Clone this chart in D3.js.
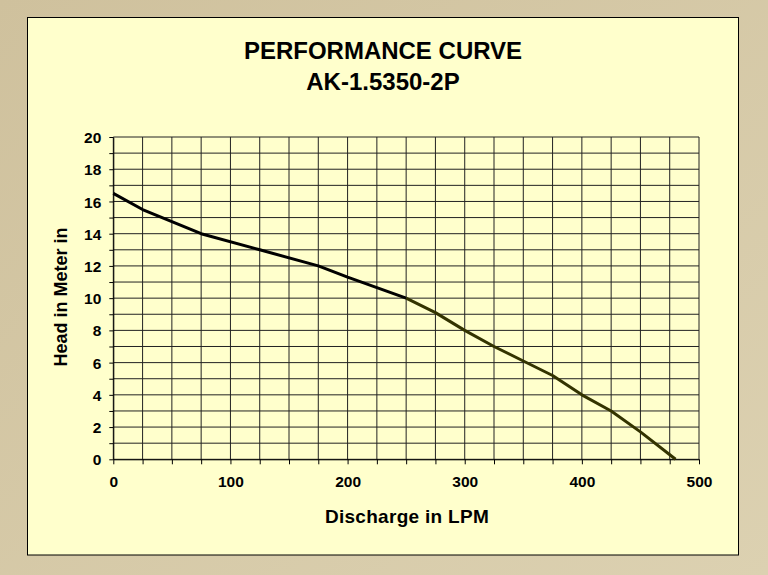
<!DOCTYPE html>
<html lang="en">
<head>
  <meta charset="UTF-8">
  <title>Performance Curve AK-1.5350-2P</title>
  <script src="https://d3js.org/d3.v7.min.js"></script>
  <style>
    body { margin: 0; }
    text { font-family: "Liberation Sans", Arial, sans-serif; font-weight: bold; fill: #000; }
  </style>
</head>
<body>
<script>
  // pump curve (discharge LPM -> head m)
  const discharge = [0, 25, 75, 125, 175, 200, 250]
  const head = [16.5, 15.5, 14.0, 13.0, 12.0, 11.3, 10.0]
  const discharge2 = [250, 275, 300, 325, 350, 375, 400, 425, 450, 480]
  const head2 = [10.0, 9.1, 8.0, 7.0, 6.1, 5.2, 4.0, 3.0, 1.7, 0]

  const xTicks = d3.range(0, 501, 25)
  const yTicks = d3.range(0, 21, 1)

  const W = 768, H = 575
  const plot = { left: 113.3, right: 699, top: 137, bottom: 459.3 }

  const svg = d3.select('body').append('svg')
    .attr('width', W).attr('height', H)

  const grad = svg.append('defs').append('linearGradient')
    .attr('id', 'bg').attr('x1', 0).attr('y1', 0).attr('x2', 1).attr('y2', 1)
  grad.append('stop').attr('offset', 0).attr('stop-color', '#cfc19d')
  grad.append('stop').attr('offset', 1).attr('stop-color', '#dcd1b1')

  svg.append('rect').attr('width', W).attr('height', H).attr('fill', 'url(#bg)')

  // chart panel
  svg.append('rect')
    .attr('x', 27.5).attr('y', 17.5)
    .attr('width', 711).attr('height', 537.5)
    .attr('fill', '#ffffcc')
    .attr('stroke', '#000').attr('stroke-width', 1)

  const x = d3.scaleLinear().domain([0, 500]).range([plot.left, plot.right])
  const y = d3.scaleLinear().domain([0, 20]).range([plot.bottom, plot.top])

  // grid
  const grid = svg.append('g').attr('stroke', '#222').attr('stroke-width', 1)
  grid.selectAll('.vx').data(xTicks).enter().append('line')
    .attr('x1', d => x(d)).attr('x2', d => x(d))
    .attr('y1', plot.top).attr('y2', plot.bottom)
  grid.selectAll('.hy').data(yTicks).enter().append('line')
    .attr('x1', plot.left).attr('x2', plot.right)
    .attr('y1', d => y(d)).attr('y2', d => y(d))

  // axes
  const xAxis = svg.append('g')
    .attr('transform', `translate(0,${plot.bottom})`)
    .call(d3.axisBottom(x).tickValues(xTicks).tickSize(5).tickSizeOuter(0)
      .tickFormat(d => d % 100 === 0 ? d : ''))
  xAxis.select('.domain').attr('stroke', '#000')
  xAxis.selectAll('line').attr('stroke', '#000')
  xAxis.selectAll('text').attr('font-size', 15.5).attr('dy', 0).attr('y', 28)

  const yAxis = svg.append('g')
    .attr('transform', `translate(${plot.left},0)`)
    .call(d3.axisLeft(y).tickValues(yTicks).tickSize(4).tickSizeOuter(0)
      .tickFormat(d => d % 2 === 0 ? d : ''))
  yAxis.select('.domain').attr('stroke', '#000')
  yAxis.selectAll('line').attr('stroke', '#000')
  yAxis.selectAll('text').attr('font-size', 15.5).attr('x', -12).attr('dy', '0.36em')

  // curve
  const line = d3.line().x(d => x(d[0])).y(d => y(d[1]))
  svg.append('path')
    .datum(discharge.map((d, i) => [d, head[i]]))
    .attr('d', line).attr('fill', 'none')
    .attr('stroke', '#000').attr('stroke-width', 3).attr('stroke-linejoin', 'round')
  svg.append('path')
    .datum(discharge2.map((d, i) => [d, head2[i]]))
    .attr('d', line).attr('fill', 'none')
    .attr('stroke', '#333300').attr('stroke-width', 3).attr('stroke-linejoin', 'round')

  // titles
  svg.append('text').text('PERFORMANCE CURVE')
    .attr('x', 383).attr('y', 59).attr('text-anchor', 'middle').attr('font-size', 24)
  svg.append('text').text('AK-1.5350-2P')
    .attr('x', 383).attr('y', 90).attr('text-anchor', 'middle').attr('font-size', 24)

  svg.append('text').text('Discharge in LPM')
    .attr('x', 407).attr('y', 523)
    .attr('text-anchor', 'middle').attr('font-size', 19).attr('letter-spacing', 0.3)

  svg.append('text').text('Head in Meter in')
    .attr('transform', `translate(67,297) rotate(-90)`)
    .attr('text-anchor', 'middle').attr('font-size', 18)
</script>
</body>
</html>
